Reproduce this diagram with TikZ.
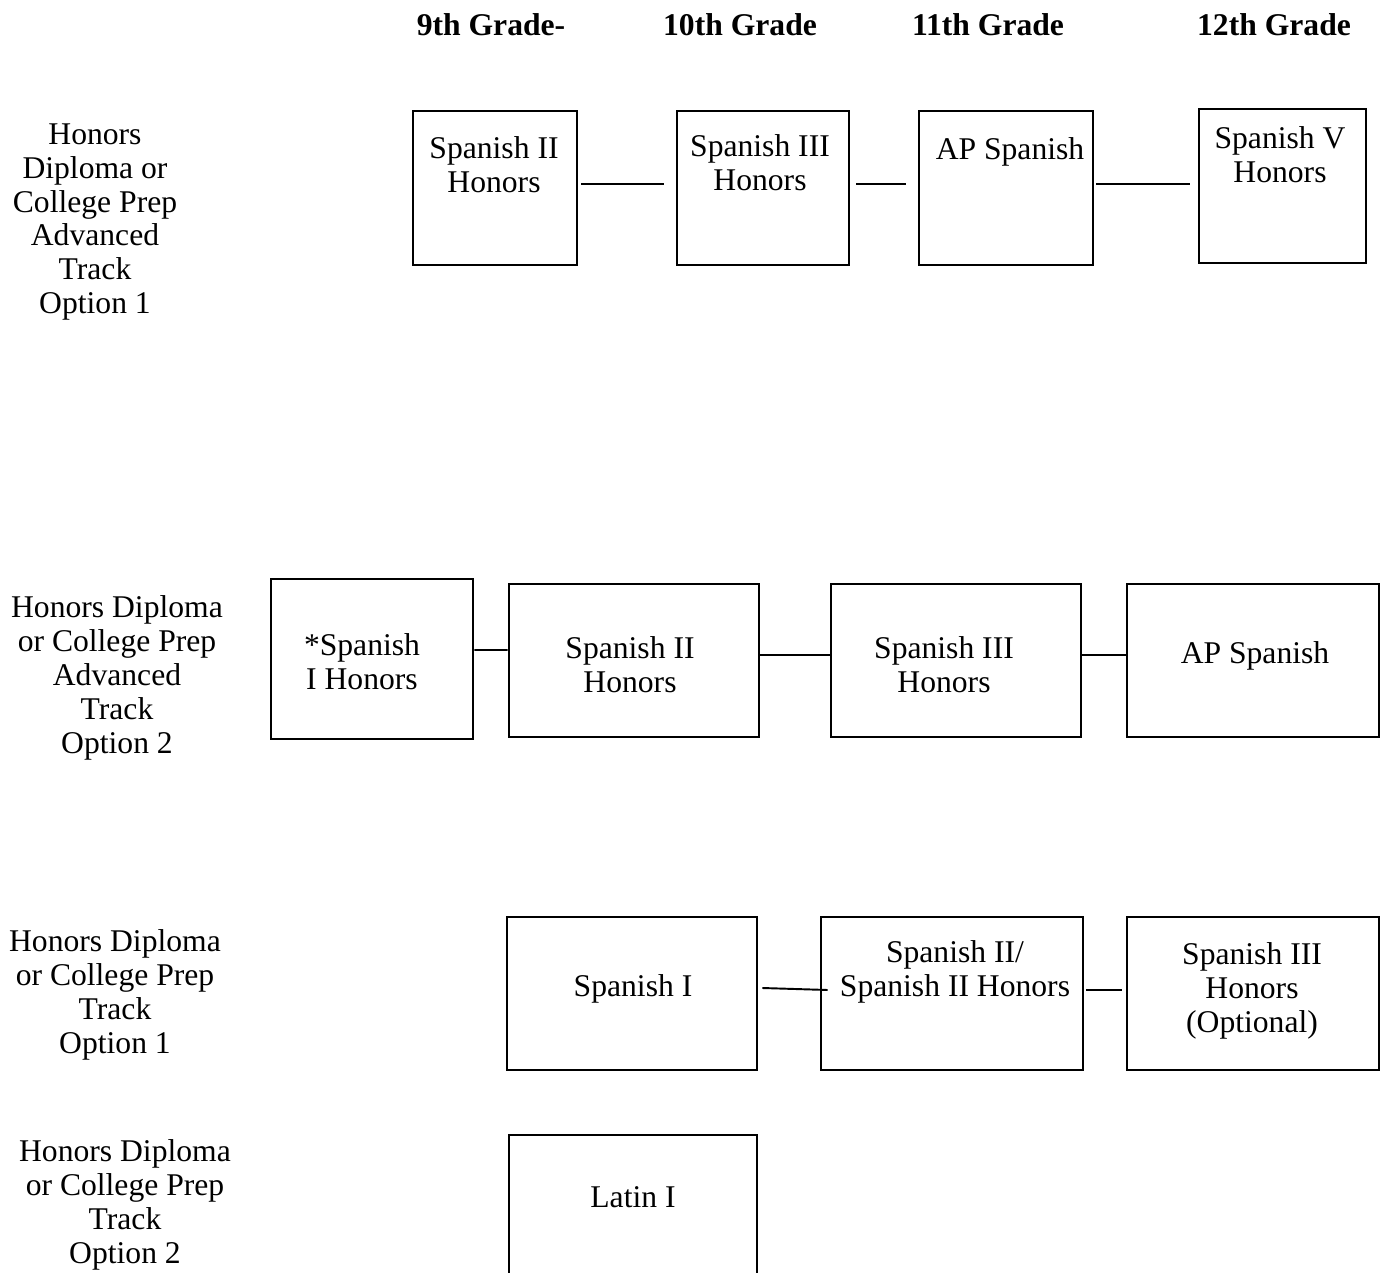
\documentclass[tikz,border=0pt]{standalone}
\usepackage{fontspec}
\setmainfont{Liberation Serif}
\usetikzlibrary{fit,calc}

\begin{document}
\begin{tikzpicture}[x=0.02cm, y=-0.02cm,
    box/.style={draw, line width=1.6pt, inner sep=0pt, rectangle},
    course/.style={align=center, inner sep=0pt, font=\fontsize{18}{19.3}\selectfont},
    track/.style={align=center, inner sep=0pt, font=\fontsize{18}{19.3}\selectfont},
    grade/.style={inner sep=0pt, font=\fontsize{18}{19.3}\selectfont\bfseries},
    link/.style={draw, line width=1.1pt}
    ]

    \useasboundingbox (0,0) rectangle (1382,1273);
    \clip (0,0) rectangle (1382,1273);

    % Grade headings
    \foreach \nm/\x/\txt in {H9/491/9th Grade-, H10/740/10th Grade, H11/988/11th Grade, H12/1274/12th Grade} {
        \node[grade] (\nm) at (\x,25) {\txt};
    }

    % Track labels
    \node[track] (L1) at (95,222) {Honors\\Diploma or\\College Prep\\Advanced\\Track\\Option 1};
    \node[track] (L2) at (117,678) {Honors Diploma\\or College Prep\\Advanced\\Track\\Option 2};
    \node[track] (L3) at (115,995) {Honors Diploma\\or College Prep\\Track\\Option 1};
    \node[track] (L4) at (125,1205) {Honors Diploma\\or College Prep\\Track\\Option 2};

    % Course boxes
    \foreach \nm/\xa/\ya/\xb/\yb in {A1/413/111/577/265, A2/677/111/849/265, A3/919/111/1093/265, A4/1199/109/1366/263, B1/271/579/473/739, B2/509/584/759/737, B3/831/584/1081/737, B4/1127/584/1379/737, C1/507/917/757/1070, C2/821/917/1083/1070, C3/1127/917/1379/1070, D1/509/1135/757/1320} {
        \node[box, fit={(\xa,\ya) (\xb,\yb)}] (\nm) {};
    }

    % Course names
    \node[course] (A1t) at (494,165) {Spanish II\\Honors};
    \node[course] (A2t) at (760,163) {Spanish III\\Honors};
    \node[course] (A3t) at (1010,152) {AP Spanish};
    \node[course] (A4t) at (1280,155) {Spanish V\\Honors};
    \node[course] (B1t) at (362,662) {*Spanish\\I Honors};
    \node[course] (B2t) at (630,665) {Spanish II\\Honors};
    \node[course] (B3t) at (944,665) {Spanish III\\Honors};
    \node[course] (B4t) at (1255,656) {AP Spanish};
    \node[course] (C1t) at (633,989) {Spanish I};
    \node[course] (C2t) at (955,972) {Spanish II/\\Spanish II Honors};
    \node[course] (C3t) at (1252,991) {Spanish III\\Honors\\(Optional)};
    \node[course] (D1t) at (633,1197) {Latin I};

    % Connectors
    \draw[link] ($(A1.east)+(3,-4)$) -- ($(A2.west)+(-12,-4)$);
    \draw[link] ($(A2.east)+(6,-4)$) -- ($(A3.west)+(-12,-4)$);
    \draw[link] ($(A3.east)+(2,-4)$) -- ($(A4.west)+(-8,-2)$);
    \draw[link] ($(B1.east)+(0,-9)$) -- ($(B2.west)+(0,-10.5)$);
    \draw[link] ($(B2.east)+(0,-5.5)$) -- ($(B3.west)+(0,-5.5)$);
    \draw[link] ($(B3.east)+(0,-5.5)$) -- ($(B4.west)+(0,-5.5)$);
    \draw[link] ($(C1.east)+(4,-5.5)$) -- ($(C2.west)+(8,-3.5)$);
    \draw[link] ($(C2.east)+(2,-3.5)$) -- ($(C3.west)+(-4,-3.5)$);
\end{tikzpicture}
\end{document}
